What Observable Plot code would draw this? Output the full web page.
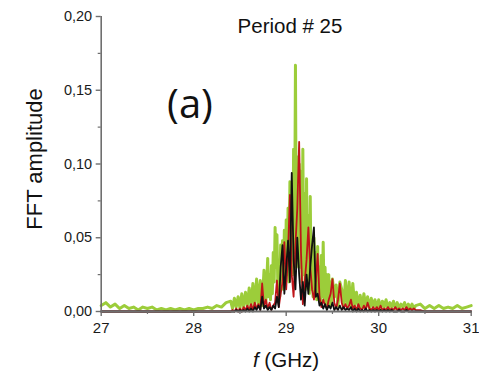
<!DOCTYPE html>
<html>
<head>
<meta charset="utf-8">
<script src="https://cdn.jsdelivr.net/npm/d3@7"></script>
<script src="https://cdn.jsdelivr.net/npm/@observablehq/plot@0.6"></script>
<style>
  html, body { margin: 0; padding: 0; background: #fff; }
  #chart { width: 479px; height: 374px; }
</style>
</head>
<body>
<div id="chart"></div>
<script>
// Frequency grid (GHz) for the black and red traces
const freq = [
  27.00,27.05,27.10,27.15,27.20,27.25,27.30,27.35,27.40,27.45,
  27.50,27.55,27.60,27.65,27.70,27.75,27.80,27.85,27.90,27.95,
  28.00,28.05,28.10,28.15,28.20,28.25,28.30,28.35,
  28.40,28.42,28.44,28.46,28.48,28.50,28.52,28.54,28.56,28.58,
  28.60,28.62,28.64,28.66,28.68,28.70,28.72,28.74,28.76,28.78,
  28.80,28.82,28.84,28.86,28.88,28.90,28.92,28.94,28.96,28.98,
  29.00,29.02,29.04,29.06,29.08,29.10,29.12,29.14,29.16,29.18,
  29.20,29.22,29.24,29.26,29.28,29.30,29.32,29.34,29.36,29.38,
  29.40,29.42,29.44,29.46,29.48,29.50,29.52,29.54,29.56,29.58,
  29.60,29.62,29.64,29.66,29.68,29.70,29.72,29.74,29.76,29.78,
  29.80,29.82,29.84,29.86,29.88,29.90,29.92,29.94,29.96,29.98,
  30.00,30.02,30.04,30.06,30.08,30.10,30.12,30.14,30.16,30.18,
  30.20,30.22,30.24,30.26,30.28,30.30,30.32,30.34,30.36,30.38,
  30.40,
  30.45,30.50,30.55,30.60,30.65,30.70,30.75,30.80,30.85,30.90,30.95,31.00
];

const blackSeries = [
  0.000,0.000,0.000,0.000,0.000,0.000,0.000,0.000,0.000,0.000,
  0.000,0.000,0.000,0.000,0.000,0.000,0.000,0.000,0.000,0.000,
  0.000,0.000,0.000,0.000,0.000,0.000,0.000,0.000,
  0.000,0.000,0.000,0.001,0.000,0.001,0.000,0.001,0.000,0.002,
  0.000,0.002,0.000,0.003,0.001,0.004,0.001,0.010,0.002,0.004,
  0.001,0.003,0.001,0.004,0.002,0.010,0.003,0.030,0.045,0.012,
  0.030,0.048,0.020,0.094,0.035,0.015,0.050,0.025,0.008,0.020,
  0.004,0.025,0.012,0.030,0.045,0.057,0.010,0.012,0.004,0.006,
  0.002,0.005,0.001,0.004,0.002,0.006,0.001,0.003,0.001,0.004,
  0.001,0.003,0.001,0.002,0.001,0.003,0.000,0.002,0.000,0.002,
  0.000,0.001,0.000,0.002,0.000,0.001,0.000,0.001,0.000,0.001,
  0.000,0.001,0.000,0.001,0.000,0.001,0.000,0.001,0.000,0.000,
  0.000,0.001,0.000,0.000,0.000,0.001,0.000,0.000,0.000,0.000,
  0.000,
  0.000,0.000,0.000,0.000,0.000,0.000,0.000,0.000,0.000,0.000,0.000,0.000
];

const redSeries = [
  0.000,0.000,0.000,0.000,0.000,0.000,0.000,0.000,0.000,0.000,
  0.000,0.000,0.000,0.000,0.000,0.000,0.000,0.000,0.000,0.000,
  0.000,0.000,0.000,0.000,0.000,0.000,0.000,0.000,
  0.000,0.001,0.000,0.002,0.000,0.002,0.000,0.003,0.001,0.004,
  0.001,0.005,0.001,0.006,0.002,0.005,0.001,0.019,0.003,0.008,
  0.002,0.006,0.001,0.004,0.006,0.021,0.003,0.012,0.020,0.047,
  0.015,0.040,0.079,0.025,0.010,0.045,0.070,0.115,0.040,0.005,
  0.020,0.035,0.057,0.030,0.015,0.008,0.020,0.039,0.010,0.003,
  0.008,0.004,0.002,0.008,0.012,0.022,0.006,0.002,0.008,0.019,
  0.006,0.002,0.005,0.002,0.004,0.008,0.002,0.004,0.001,0.005,
  0.002,0.001,0.004,0.001,0.006,0.002,0.001,0.003,0.001,0.003,
  0.001,0.004,0.001,0.002,0.001,0.003,0.001,0.002,0.001,0.003,
  0.001,0.002,0.001,0.002,0.001,0.003,0.001,0.002,0.001,0.002,
  0.001,
  0.001,0.000,0.000,0.000,0.000,0.000,0.000,0.000,0.000,0.000,0.000,0.000
];

// Finer frequency grid (GHz) for the green trace around the main peak
const greenFreq = [
  27.00,27.05,27.10,27.15,27.20,27.25,27.30,27.35,27.40,27.45,
  27.50,27.55,27.60,27.65,27.70,27.75,27.80,27.85,27.90,27.95,
  28.00,28.05,28.10,28.15,28.20,28.25,28.30,28.35,
  28.40,28.42,28.44,28.46,28.48,28.50,28.52,28.54,28.56,28.58,
  28.60,28.62,28.64,28.66,28.68,28.70,28.72,28.74,28.76,28.78,
  28.80,28.81,28.82,28.83,28.84,28.85,28.86,28.87,28.88,28.89,
  28.90,28.91,28.92,28.93,28.94,28.95,28.96,28.97,28.98,28.99,
  29.00,29.01,29.02,29.03,29.04,29.05,29.06,29.07,29.08,29.09,
  29.10,29.11,29.12,29.13,29.14,29.15,29.16,29.17,29.18,29.19,
  29.20,29.21,29.22,29.23,29.24,29.25,29.26,29.27,29.28,29.29,
  29.30,29.31,29.32,29.33,29.34,29.35,29.36,29.37,29.38,29.39,
  29.40,29.41,29.42,29.43,29.44,29.45,29.46,29.47,29.48,29.49,
  29.50,
  29.52,29.54,29.56,29.58,
  29.60,29.62,29.64,29.66,29.68,29.70,29.72,29.74,29.76,29.78,
  29.80,29.82,29.84,29.86,29.88,29.90,29.92,29.94,29.96,29.98,
  30.00,30.02,30.04,30.06,30.08,30.10,30.12,30.14,30.16,30.18,
  30.20,30.22,30.24,30.26,30.28,30.30,30.32,30.34,30.36,30.38,
  30.40,
  30.45,30.50,30.55,30.60,30.65,30.70,30.75,30.80,30.85,30.90,30.95,31.00
];

const greenSeries = [
  0.004,0.006,0.003,0.005,0.002,0.004,0.002,0.003,0.001,0.003,
  0.002,0.003,0.001,0.002,0.001,0.002,0.001,0.002,0.001,0.002,
  0.001,0.002,0.002,0.003,0.002,0.004,0.003,0.006,
  0.007,0.002,0.009,0.003,0.010,0.002,0.012,0.003,0.013,0.004,
  0.016,0.003,0.019,0.004,0.022,0.005,0.021,0.004,0.028,0.006,
  0.036,0.010,0.025,0.008,0.031,0.012,0.040,0.020,0.057,0.030,
  0.052,0.015,0.035,0.010,0.045,0.020,0.048,0.015,0.055,0.020,
  0.062,0.025,0.070,0.020,0.088,0.030,0.080,0.025,0.110,0.040,
  0.167,0.030,0.105,0.035,0.100,0.030,0.095,0.020,0.110,0.025,
  0.080,0.015,0.090,0.020,0.065,0.012,0.078,0.015,0.045,0.010,
  0.050,0.012,0.040,0.008,0.044,0.010,0.030,0.006,0.038,0.010,
  0.047,0.008,0.030,0.005,0.025,0.006,0.025,0.004,0.020,0.005,
  0.022,
  0.010,0.018,0.004,0.020,
  0.015,0.003,0.021,0.004,0.020,0.003,0.019,0.004,0.013,0.003,
  0.011,0.002,0.012,0.003,0.010,0.002,0.009,0.003,0.008,0.002,
  0.008,0.002,0.007,0.003,0.008,0.002,0.006,0.003,0.007,0.002,
  0.006,0.002,0.005,0.003,0.006,0.002,0.005,0.002,0.005,0.002,
  0.004,
  0.005,0.002,0.004,0.002,0.004,0.002,0.003,0.002,0.004,0.002,0.003,0.004
];

const xMajorTicks = [27, 28, 29, 30, 31];
const xMinorTicks = [27.5, 28.5, 29.5, 30.5];
const yMajorTicks = [0, 0.05, 0.10, 0.15, 0.20];
const yMinorTicks = [0.025, 0.075, 0.125, 0.175];

const titleText = "Period # 25";
const panelText = "(a)";
const yLabelText = "FFT amplitude";

const toRows = (fs, arr) => fs.map((f, i) => ({f, v: arr[i]}));
const font = "'Liberation Sans', Arial, Helvetica, sans-serif";
const axisColor = "#6f6f6f";

const chart = Plot.plot({
  width: 479,
  height: 374,
  marginLeft: 100.7,
  marginRight: 8.3,
  marginTop: 16,
  marginBottom: 63,
  style: {fontFamily: font, background: "#fff", color: "#1a1a1a"},
  x: {domain: [27, 31]},
  y: {domain: [0, 0.2]},
  marks: [
    Plot.line(toRows(greenFreq, greenSeries), {x: "f", y: "v", stroke: "#9ccd3a", strokeWidth: 3, curve: "linear"}),
    Plot.line(toRows(freq, redSeries), {x: "f", y: "v", stroke: "#bf1519", strokeWidth: 1.8, curve: "linear"}),
    Plot.line(toRows(freq, blackSeries), {x: "f", y: "v", stroke: "#111111", strokeWidth: 1.8, curve: "linear"}),
    Plot.ruleX([27], {stroke: axisColor, strokeWidth: 1.6}),
    Plot.ruleY([0], {stroke: axisColor, strokeWidth: 1.8}),
    Plot.axisY({ticks: yMajorTicks, tickSize: 5, tickPadding: 4, stroke: axisColor, strokeWidth: 1.4,
      tickFormat: d => d.toFixed(2).replace(".", ","), fontSize: 14.5, label: null}),
    Plot.axisY({ticks: yMinorTicks, tickSize: 3, stroke: axisColor, strokeWidth: 1.2, tickFormat: () => "", label: null}),
    Plot.axisX({ticks: xMajorTicks, tickSize: 5, tickPadding: 6, stroke: axisColor, strokeWidth: 1.4,
      tickFormat: d => String(d), fontSize: 15, label: null}),
    Plot.axisX({ticks: xMinorTicks, tickSize: 3, stroke: axisColor, strokeWidth: 1.2, tickFormat: () => "", label: null})
  ]
});

const svg = d3.select(chart);
svg.append("text")
  .attr("x", 290).attr("y", 33)
  .attr("text-anchor", "middle")
  .attr("font-family", font).attr("font-size", 20.5).attr("fill", "#111")
  .text(titleText);
svg.append("text")
  .attr("x", 190).attr("y", 118)
  .attr("text-anchor", "middle")
  .attr("font-family", "'Open Sans', 'Noto Sans', sans-serif").attr("font-size", 40).attr("fill", "#111")
  .text(panelText);
svg.append("text")
  .attr("transform", "translate(42,159) rotate(-90)")
  .attr("text-anchor", "middle")
  .attr("font-family", font).attr("font-size", 22).attr("fill", "#111")
  .text(yLabelText);
const xl = svg.append("text")
  .attr("x", 286).attr("y", 367)
  .attr("text-anchor", "middle")
  .attr("font-family", font).attr("font-size", 20.5).attr("fill", "#111");
xl.append("tspan").attr("font-style", "italic").text("f");
xl.append("tspan").text(" (GHz)");

document.getElementById("chart").appendChild(chart);
</script>
</body>
</html>
